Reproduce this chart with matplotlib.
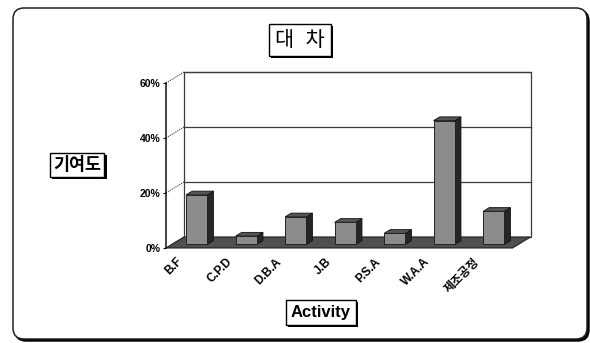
import matplotlib
matplotlib.use("Agg")
import matplotlib.pyplot as plt
from matplotlib.patches import Polygon, FancyBboxPatch
import matplotlib.patheffects as pe
import matplotlib.transforms as mtransforms

plt.rcParams["font.family"] = ["Liberation Sans", "Noto Sans CJK KR"]
plt.rcParams["axes.unicode_minus"] = False

# 기여도 (%) per activity
activities = ["B.F", "C.P.D", "D.B.A", "J.B", "P.S.A", "W.A.A", "제조공정"]
contribution = [18, 3, 10, 8, 4, 45, 12]
y_ticks = [0, 20, 40, 60]

# pseudo-3D depth as a shear in data units
DX, DY = 0.364, 4.0
BAR_W = 0.43
D0, D1 = 0.33, 0.67

FRONT = "#8c8c8c"
SIDE = "#262626"
TOP = "#555555"
FLOOR = "#4f4f4f"
LINE = "#3a3a3a"


def at(x, y, d):
    return (x + d * DX, y + d * DY)


fig = plt.figure(figsize=(5.9, 3.43), dpi=100)

# background frame, in pixel coordinates
bg = fig.add_axes([0, 0, 1, 1], zorder=0)
bg.set_xlim(0, 590)
bg.set_ylim(343, 0)
bg.axis("off")
bg.add_patch(FancyBboxPatch((15, 10), 574, 331, boxstyle="round,pad=0,rounding_size=11",
                            fc="black", ec="black", lw=1))
bg.add_patch(FancyBboxPatch((13, 8), 574, 331, boxstyle="round,pad=0,rounding_size=11",
                            fc="white", ec="#222222", lw=1.1))

ax = fig.add_axes([166 / 590, 95 / 343, 346.5 / 590, 165 / 343], zorder=1)
ax.patch.set_visible(False)
n = len(activities)
x0, x1 = -0.5, n - 0.5
ax.set_xlim(x0, x1)
ax.set_ylim(0, 60)
for s in ax.spines.values():
    s.set_visible(False)

# back wall
wall = [at(x0, 0, 1), at(x1, 0, 1), at(x1, 60, 1), at(x0, 60, 1)]
ax.add_patch(Polygon(wall, closed=True, fc="white", ec=LINE, lw=0.9, clip_on=False, zorder=1))
for g in y_ticks[1:]:
    xs, ys = zip(at(x0, g, 1), at(x1, g, 1))
    ax.plot(xs, ys, color=LINE, lw=0.9, clip_on=False, zorder=1.5)
# side diagonals from front axis to wall
for g in y_ticks:
    xs, ys = zip(at(x0, g, 0), at(x0, g, 1))
    ax.plot(xs, ys, color=LINE, lw=0.8, ls=(0, (1, 1)), clip_on=False, zorder=1.5)
ax.plot([x0, x0], [0, 60], color="#111111", lw=1.1, clip_on=False, zorder=1.5)

# floor
floor = [at(x0, 0, 0), at(x1, 0, 0), at(x1, 0, 1), at(x0, 0, 1)]
ax.add_patch(Polygon(floor, closed=True, fc=FLOOR, ec="#222222", lw=0.8, clip_on=False, zorder=2))

# bars
for i, v in enumerate(contribution):
    l, r = i - BAR_W / 2, i + BAR_W / 2
    side = [at(r, 0, D0), at(r, 0, D1), at(r, v, D1), at(r, v, D0)]
    top = [at(l, v, D0), at(r, v, D0), at(r, v, D1), at(l, v, D1)]
    ax.add_patch(Polygon(side, closed=True, fc=SIDE, ec="#111111", lw=0.6, clip_on=False, zorder=3))
    ax.add_patch(Polygon(top, closed=True, fc=TOP, ec="#111111", lw=0.6, clip_on=False, zorder=3))
    bx, by = at(l, 0, D0)
    ax.bar(bx, v, width=BAR_W, bottom=by, align="edge", color=FRONT, edgecolor="#222222",
           linewidth=0.7, zorder=4, clip_on=False)

ax.set_yticks(y_ticks)
ax.set_yticklabels([f"{t}%" for t in y_ticks], fontsize=7.5, fontweight="bold")
ax.tick_params(axis="y", length=2, pad=2, width=0.8)
ax.set_xticks(range(n))
ax.set_xticklabels(activities, rotation=45, ha="right", va="center", rotation_mode="anchor",
                   fontsize=8.5, fontweight="bold")
ax.tick_params(axis="x", length=0, pad=0)
shift = mtransforms.ScaledTranslation(-0.10, -0.12, fig.dpi_scale_trans)
for lab in ax.get_xticklabels():
    lab.set_transform(lab.get_transform() + shift)

shadow = [pe.withSimplePatchShadow(offset=(1.5, -1.5), shadow_rgbFace="black", alpha=1)]


def boxed(x, y, s, size, weight, pad):
    box = dict(boxstyle=f"square,pad={pad}", fc="white", ec="black", lw=1)
    t = bg.text(x, y, s, ha="center", va="center", fontsize=size, fontweight=weight, bbox=box)
    t.get_bbox_patch().set_path_effects(shadow)
    return t


boxed(300, 40, "대  차", 15, "normal", 0.3)
boxed(77, 165, "기여도", 12.5, "bold", 0.2)
boxed(321, 312, "Activity", 12, "bold", 0.3)

fig.savefig("out.png", dpi=100)
